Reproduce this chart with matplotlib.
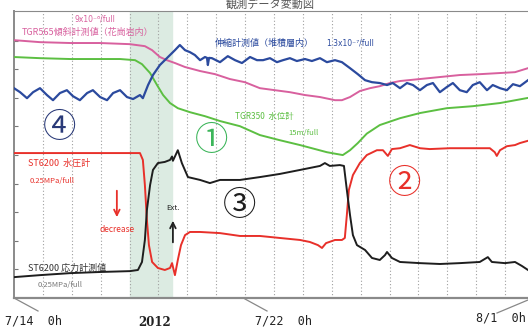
import matplotlib
matplotlib.use('Agg')
import matplotlib.pyplot as plt

plt.rcParams['font.family'] = ['Noto Sans CJK JP', 'DejaVu Sans']

# 時間軸: 7/14 0h からの経過日数, 縦軸: 目盛 0-10 (フルスケール)
blue_t = [0, 0.21, 0.45, 0.66, 0.90, 1.14, 1.35, 1.59, 1.83, 2.04, 2.28, 2.53, 2.73, 2.98,
          3.22, 3.43, 3.67, 3.91, 4.12, 4.36, 4.46, 4.64, 4.81, 5.05, 5.22, 5.40, 5.57, 5.74,
          5.92, 6.09, 6.26, 6.44, 6.61, 6.68, 6.71, 6.75, 6.85, 7.13, 7.40, 7.65, 7.89, 8.17,
          8.41, 8.62, 8.86, 9.10, 9.31, 9.55, 9.79, 10.07, 10.31, 10.59, 10.83, 11.11, 11.35,
          11.63, 11.90, 12.15, 12.39, 12.66, 12.91, 13.11, 13.36, 13.60, 13.81, 14.05, 14.29,
          14.50, 14.74, 14.98, 15.19, 15.43, 15.67, 15.88, 16.12, 16.37, 16.57, 16.82, 17.06,
          17.27, 17.51, 17.79]
blue_v = [7.34, 7.20, 6.99, 7.20, 7.34, 7.10, 6.92, 7.17, 7.27, 7.06, 6.92, 7.17, 7.27, 7.03,
          6.92, 7.17, 7.27, 7.03, 6.96, 7.10, 6.99, 7.45, 7.80, 8.15, 8.32, 8.50, 8.67, 8.85,
          8.67, 8.60, 8.50, 8.32, 8.43, 8.40, 8.15, 8.40, 8.39, 8.25, 8.46, 8.32, 8.22, 8.43,
          8.32, 8.32, 8.39, 8.25, 8.32, 8.39, 8.29, 8.36, 8.29, 8.39, 8.25, 8.32, 8.25,
          8.04, 7.83, 7.62, 7.55, 7.52, 7.45, 7.52, 7.34, 7.52, 7.45, 7.27, 7.45,
          7.52, 7.20, 7.38, 7.52, 7.27, 7.20, 7.45, 7.55, 7.27, 7.45, 7.34, 7.27,
          7.48, 7.41, 7.62]

pink_t = [0, 0.90, 1.94, 2.98, 4.01, 4.53, 4.78, 5.05, 5.29, 5.57, 5.92, 6.44, 6.96, 7.47,
          7.99, 8.51, 9.03, 9.55, 10.07, 10.59, 11.11, 11.35, 11.63, 11.97, 12.32, 12.66,
          13.01, 13.36, 14.05, 14.74, 15.43, 16.12, 16.82, 17.34, 17.79]
pink_v = [9.02, 8.95, 8.92, 8.92, 8.88, 8.81, 8.67, 8.43, 8.32, 8.22, 8.08, 7.94, 7.83, 7.66,
          7.55, 7.34, 7.27, 7.20, 7.10, 7.03, 6.92, 6.92, 7.03, 7.24, 7.34, 7.41,
          7.52, 7.59, 7.66, 7.73, 7.80, 7.83, 7.87, 7.90, 8.04]

green_t = [0, 0.90, 1.94, 2.98, 3.67, 4.19, 4.43, 4.71, 4.95, 5.16, 5.40, 5.67, 6.09, 6.61,
           7.13, 7.82, 8.51, 9.20, 9.90, 10.83, 11.38, 11.63, 11.90, 12.21, 12.66, 13.36,
           14.05, 14.98, 15.88, 16.82, 17.79]
green_v = [8.43, 8.39, 8.36, 8.36, 8.36, 8.32, 8.18, 7.87, 7.45, 7.10, 6.82, 6.64, 6.50, 6.36,
           6.19, 6.01, 5.70, 5.52, 5.35, 5.10, 5.00, 5.17, 5.42, 5.75, 6.05, 6.29,
           6.47, 6.64, 6.71, 6.82, 7.00]

black_t = [0, 0.90, 1.94, 2.98, 4.01, 4.29, 4.43, 4.53, 4.60, 4.71, 4.81, 4.98, 5.22, 5.40,
           5.47, 5.50, 5.57, 5.67, 5.81, 6.02, 6.44, 6.78, 7.13, 7.82, 8.51, 9.20, 9.90,
           10.59, 10.76, 10.93, 11.28, 11.42, 11.52, 11.63, 11.73, 11.87, 12.15, 12.39, 12.66,
           12.84, 12.91, 13.08, 13.36, 14.05, 14.74, 15.43, 16.12, 16.40, 16.54, 16.99, 17.34,
           17.58, 17.79]
black_v = [0.73, 0.80, 0.87, 0.91, 0.94, 0.98, 1.26, 2.03, 3.08, 3.95, 4.48, 4.72, 4.76, 4.83,
           4.95, 4.80, 4.95, 5.17, 4.72, 4.23, 4.13, 4.02, 4.13, 4.13, 4.23, 4.34, 4.48,
           4.62, 4.72, 4.62, 4.65, 4.62, 3.78, 2.90, 2.20, 1.85, 1.68, 1.40, 1.33,
           1.50, 1.61, 1.40, 1.26, 1.22, 1.19, 1.22, 1.26, 1.43, 1.26, 1.22, 1.26,
           1.12, 0.98]

red_t = [0, 1.39, 2.28, 3.67, 4.36, 4.46, 4.53, 4.60, 4.67, 4.78, 4.98, 5.22, 5.40, 5.47,
         5.57, 5.67, 5.78, 5.92, 6.09, 6.44, 7.13, 7.82, 8.51, 9.20, 9.90, 10.24, 10.52,
         10.66, 10.80, 11.11, 11.35, 11.45, 11.52, 11.59, 11.73, 11.97, 12.21, 12.56, 12.77,
         12.94, 13.08, 13.36, 13.70, 14.05, 14.39, 15.09, 15.78, 16.47, 16.64, 16.71, 16.82,
         17.06, 17.34, 17.51, 17.79]
red_v = [5.07, 5.07, 5.07, 5.07, 5.07, 4.83, 3.95, 2.73, 1.85, 1.26, 1.05, 0.98, 1.05, 1.22,
         0.80, 1.33, 1.85, 2.20, 2.31, 2.31, 2.27, 2.17, 2.17, 2.10, 2.03, 1.96, 1.85,
         1.75, 1.92, 2.03, 2.03, 2.10, 2.90, 3.78, 4.30, 4.72, 5.00, 5.17, 5.17,
         4.97, 5.21, 5.24, 5.35, 5.24, 5.21, 5.24, 5.24, 5.24, 5.10, 4.97, 5.17,
         5.31, 5.35, 5.42, 5.50]

shade_start, shade_end = 4.01, 5.47
day_lines = list(range(1, 18))

fig = plt.figure(figsize=(5.28, 3.29), dpi=100)
ax = fig.add_axes([14 / 528, 1 - 298 / 329, 1 - 14 / 528, 287 / 329])
ax.set_xlim(0, 17.79)
ax.set_ylim(0, 10.04)

ax.axvspan(shade_start, shade_end, color='#dcebe2', zorder=0)
for d in day_lines:
    ax.axvline(d, color='#a0a0a0', lw=0.8, ls=(0, (1, 2)), zorder=1)

ax.plot(pink_t, pink_v, color='#d8609e', lw=1.4, zorder=3)
ax.plot(green_t, green_v, color='#5cbf42', lw=1.4, zorder=3)
ax.plot(blue_t, blue_v, color='#2b4a9e', lw=1.6, zorder=4)
ax.plot(red_t, red_v, color='#e8302a', lw=1.4, zorder=3)
ax.plot(black_t, black_v, color='#1e1e1e', lw=1.4, zorder=4)

ax.set_xticks([])
ax.set_yticks(range(1, 10))
ax.set_yticklabels([])
ax.tick_params(axis='y', direction='in', length=3, color='#777')
for s in ['left', 'top', 'bottom']:
    ax.spines[s].set_color('#8a8a8a')
ax.spines['bottom'].set_linewidth(1.6)
ax.spines['left'].set_linewidth(1.4)
ax.spines['right'].set_visible(False)

# 注記
ax.text(2.80, 9.76, '9x10⁻⁶/full', color='#d8609e', fontsize=5.5, ha='center', va='center',
        family=['DejaVu Sans'])
ax.text(0.28, 9.30, 'TGR565傾斜計測値（花崗岩内）', color='#d8609e', fontsize=6.5, va='center')
ax.text(6.96, 8.92, '伸縮計測値（堆積層内）', color='#2b4a9e', fontsize=6.5, va='center')
ax.text(10.80, 8.92, '1.3x10⁻⁷/full', color='#2b4a9e', fontsize=5.5, va='center',
        family=['DejaVu Sans'])
ax.text(7.65, 6.36, 'TGR350  水位計', color='#5cbf42', fontsize=6, va='center')
ax.text(9.48, 5.77, '15m/full', color='#5cbf42', fontsize=5.5, va='center')
ax.text(0.48, 4.72, 'ST6200  水圧計', color='#e8302a', fontsize=6.5, va='center')
ax.text(0.55, 4.09, '0.25MPa/full', color='#e8302a', fontsize=5.5, va='center')
ax.annotate('', xy=(3.56, 2.73), xytext=(3.56, 3.85),
            arrowprops=dict(arrowstyle='->', color='#e8302a', lw=1.3))
ax.text(3.56, 2.38, 'decrease', color='#e8302a', fontsize=6, ha='center', va='center')
ax.annotate('', xy=(5.50, 2.80), xytext=(5.50, 1.85),
            arrowprops=dict(arrowstyle='->', color='#222', lw=1.3))
ax.text(5.50, 3.15, 'Ext.', color='#222', fontsize=5.5, ha='center', va='center')
ax.text(0.48, 1.05, 'ST6200 応力計測値', color='#333', fontsize=6.5, va='center')
ax.text(0.83, 0.45, '0.25MPa/full', color='#777', fontsize=5.5, va='center')

ax.text(1.59, 5.98, '④', color='#2a3a78', fontsize=24, ha='center', va='center')
ax.text(6.85, 5.52, '①', color='#3cb55a', fontsize=24, ha='center', va='center')
ax.text(7.82, 3.25, '③', color='#1e1e1e', fontsize=24, ha='center', va='center')
ax.text(13.53, 4.02, '②', color='#e8302a', fontsize=24, ha='center', va='center')

# 日付ラベル
mono = ['DejaVu Sans Mono']
fig.text(5 / 528, 1 - 321 / 329, '7/14  0h', fontsize=8.5, family=mono, va='center', color='#222')
fig.text(155 / 528, 1 - 322 / 329, '2012', fontsize=8.5, family=['DejaVu Serif'],
         weight='bold', ha='center', va='center', color='#222')
fig.text(255 / 528, 1 - 321 / 329, '7/22  0h', fontsize=8.5, family=mono, va='center', color='#222')
fig.text(476 / 528, 1 - 318 / 329, '8/1  0h', fontsize=8.5, family=mono, va='center', color='#222')
for (x0, y0), (x1, y1) in [((14, 298), (38, 311)), ((245, 299), (267, 311)),
                           ((497, 313), (528, 300))]:
    fig.add_artist(plt.Line2D([x0 / 528, x1 / 528], [1 - y0 / 329, 1 - y1 / 329],
                              color='#888', lw=0.9))

fig.text(270 / 528, 1 - 4 / 329, '観測データ変動図', fontsize=8, color='#555', ha='center',
         va='center')

fig.savefig('out.png', dpi=100)
